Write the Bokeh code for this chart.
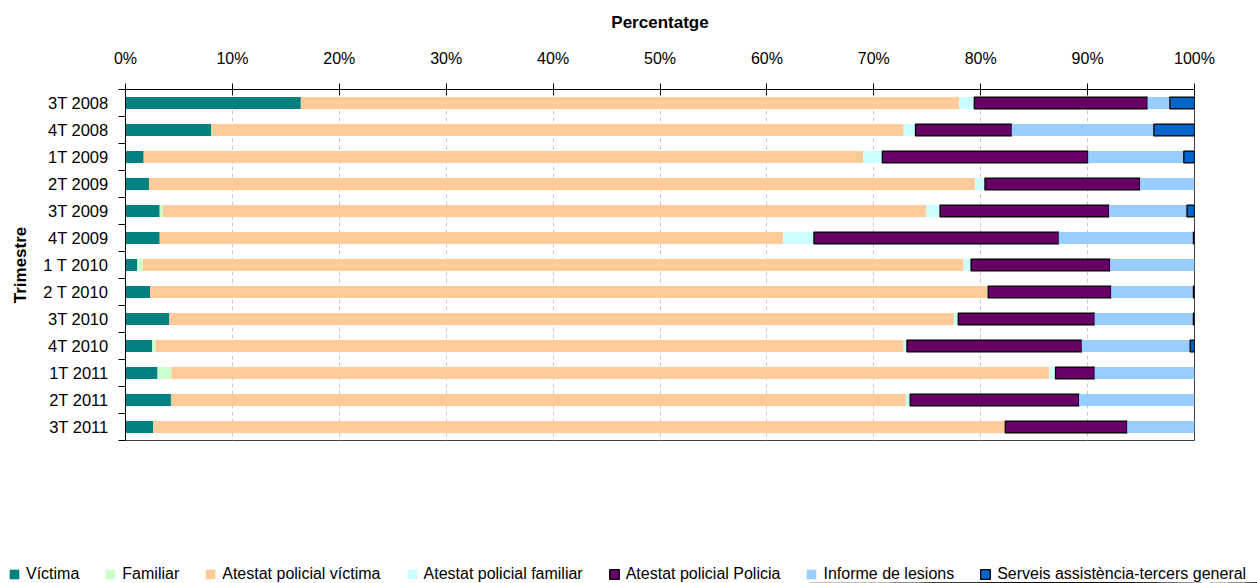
from bokeh.plotting import figure
from bokeh.layouts import column
from bokeh.models import (Range1d, FixedTicker, PrintfTickFormatter, ColumnDataSource,
                          Legend, LegendItem)
from bokeh.embed import file_html
from bokeh.resources import INLINE

trimestres = ["3T 2008", "4T 2008", "1T 2009", "2T 2009", "3T 2009", "4T 2009",
              "1 T 2010", "2 T 2010", "3T 2010", "4T 2010", "1T 2011", "2T 2011", "3T 2011"]

victima     = [16.4, 8.0, 1.7, 2.2, 3.2, 3.2, 1.1, 2.3, 4.1, 2.5, 3.0, 4.25, 2.6]
familiar    = [0, 0, 0, 0, 0.3, 0, 0.5, 0, 0, 0.3, 1.3, 0, 0]
at_victima  = [61.6, 64.8, 67.3, 77.3, 71.4, 58.3, 76.8, 78.3, 73.4, 70.0, 82.1, 68.75, 79.7]
at_familiar = [1.4, 1.1, 1.8, 0.9, 1.3, 2.9, 0.7, 0.1, 0.4, 0.3, 0.6, 0.4, 0]
at_policia  = [16.2, 9.0, 19.25, 14.5, 15.8, 22.9, 13.0, 11.5, 12.75, 16.35, 3.65, 15.8, 11.4]
informe     = [2.1, 13.3, 8.95, 5.1, 7.3, 12.6, 7.9, 7.7, 9.25, 10.15, 9.35, 10.8, 6.3]
serveis     = [2.3, 3.8, 1.0, 0, 0.7, 0.1, 0, 0.1, 0.1, 0.4, 0, 0, 0]

series_names = ["Víctima", "Familiar", "Atestat policial víctima", "Atestat policial familiar",
                "Atestat policial Policia", "Informe de lesions", "Serveis assistència-tercers general"]
series_vals = [victima, familiar, at_victima, at_familiar, at_policia, informe, serveis]
colors = ["#008080", "#CCFFCC", "#FFCC99", "#CCFFFF", "#660066", "#99CCFF", "#0066CC"]

keys = ["s%d" % i for i in range(len(series_vals))]
data = {"y": list(range(len(trimestres)))}
totals = [sum(v[j] for v in series_vals) for j in range(len(trimestres))]
for k, vals in zip(keys, series_vals):
    data[k] = [vals[j] / totals[j] * 100 for j in range(len(trimestres))]
data["serv_alpha"] = [1 if v > 0 else 0 for v in serveis]
source = ColumnDataSource(data)

FONT = "Liberation Sans"
LEG_H = 34
MAIN_H = 583 - LEG_H

p = figure(width=1257, height=MAIN_H, output_backend="svg", toolbar_location=None,
           x_range=Range1d(0, 100), y_range=Range1d(12.5, -0.5),
           x_axis_location="above",
           min_border_left=125, min_border_right=63, min_border_top=89,
           min_border_bottom=MAIN_H - 440)
p.background_fill_color = "white"
p.border_fill_color = "white"
p.outline_line_color = "#404040"
p.outline_line_width = 1

bar_style = dict(y="y", height=0.44, source=source, fill_color=colors, line_color="black",
                 line_alpha=[0, 0, 0, 0, 1, 0, "serv_alpha"], line_width=1.3)
renderers = p.hbar_stack(keys, **bar_style)

# x axis (top)
xa = p.xaxis[0]
xa.ticker = FixedTicker(ticks=list(range(0, 101, 10)), minor_ticks=[])
xa.formatter = PrintfTickFormatter(format="%d%%")
xa.major_tick_in = 6
xa.major_tick_out = 6
xa.major_tick_line_color = "black"
xa.axis_line_color = "black"
xa.major_label_standoff = 17
xa.major_label_text_font = FONT
xa.major_label_text_font_size = "16px"
xa.major_label_text_color = "black"
xa.axis_label = "Percentatge"
xa.axis_label_text_font = FONT
xa.axis_label_text_font_size = "17px"
xa.axis_label_text_font_style = "bold"
xa.axis_label_text_color = "black"
xa.axis_label_standoff = 15

# y axis
ya = p.yaxis[0]
ya.ticker = FixedTicker(ticks=list(range(len(trimestres))),
                        minor_ticks=[i - 0.5 for i in range(len(trimestres) + 1)])
ya.major_label_overrides = {i: t for i, t in enumerate(trimestres)}
ya.major_tick_in = 0
ya.major_tick_out = 0
ya.minor_tick_in = 0
ya.minor_tick_out = 7
ya.minor_tick_line_color = "black"
ya.axis_line_color = "black"
ya.major_label_standoff = 10
ya.major_label_text_font = FONT
ya.major_label_text_font_size = "16.5px"
ya.major_label_text_color = "black"
ya.axis_label = "Trimestre"
ya.axis_label_text_font = FONT
ya.axis_label_text_font_size = "17px"
ya.axis_label_text_font_style = "bold"
ya.axis_label_text_color = "black"
ya.axis_label_standoff = 10

# grids
p.ygrid.grid_line_color = None
p.xgrid.ticker = FixedTicker(ticks=list(range(10, 100, 10)))
p.xgrid.grid_line_color = "#c8c8c8"
p.xgrid.grid_line_dash = "4 3"
p.xgrid.grid_line_width = 1

# legend strip: a separate figure, its own bars kept out of view (y range far away)
pl = figure(width=1257, height=LEG_H, output_backend="svg", toolbar_location=None,
            x_range=Range1d(0, 100), y_range=Range1d(1000, 1001),
            x_axis_location=None, y_axis_location=None,
            min_border=0, min_border_left=0, min_border_right=0,
            min_border_top=0, min_border_bottom=0)
if "frame_align" in pl.properties():
    pl.frame_align = False
    p.frame_align = False
pl.outline_line_color = None
pl.grid.visible = False
pl.background_fill_color = "white"
pl.border_fill_color = "white"
leg_renderers = pl.hbar_stack(keys, **bar_style)

items = [LegendItem(label=n, renderers=[r], index=0)
         for n, r in zip(series_names, leg_renderers)]
legend = Legend(items=items, orientation="horizontal", location=(8, 0),
                spacing=25, label_standoff=6, glyph_width=12, glyph_height=12,
                padding=0, margin=0, border_line_alpha=0, background_fill_alpha=0,
                label_text_font=FONT, label_text_font_size="16px",
                label_text_color="black")
pl.add_layout(legend)

open("out.html", "w").write(file_html(column(p, pl, spacing=0), INLINE))
